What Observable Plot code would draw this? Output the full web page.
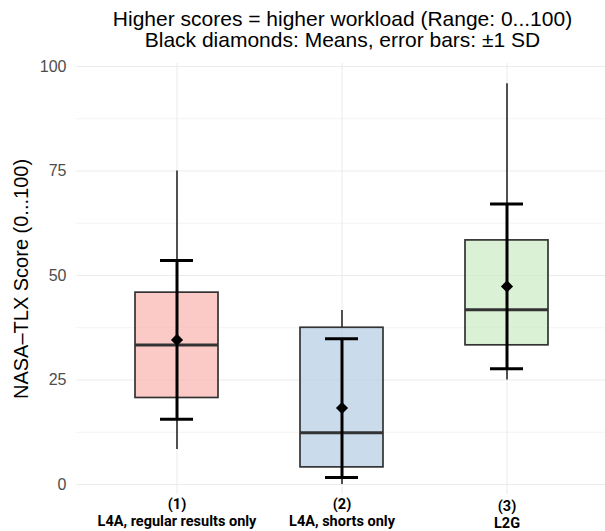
<!DOCTYPE html>
<html><head><meta charset="utf-8">
<script src="https://cdn.jsdelivr.net/npm/d3@7"></script>
<script src="https://cdn.jsdelivr.net/npm/@observablehq/plot@0.6"></script>
<style>
body{margin:0;background:#fff;}
#title{box-sizing:border-box;width:605px;height:55px;padding:8px 0 0 80px;text-align:center;font:21px/21px "Liberation Sans",Arial,sans-serif;color:#000;}
#chart svg{display:block;}
</style></head><body>
<div id="title"><div>Higher scores = higher workload (Range: 0...100)</div><div>Black diamonds: Means, error bars: ±1 SD</div></div>
<div id="chart"></div>
<script>
const groups = ["L4A, regular results only", "L4A, shorts only", "L2G"];
const tickLabels = ["(1)\nL4A, regular results only", "(2)\nL4A, shorts only", "(3)\nL2G"];
const whiskerLow = [8.4, 0.0, 25.0];
const q1 = [20.7, 4.1, 33.3];
const median = [33.4, 12.4, 41.8];
const q3 = [45.9, 37.5, 58.4];
const whiskerHigh = [75.0, 41.6, 95.9];
const means = [34.6, 18.3, 47.4];
const sds = [19.0, 16.6, 19.7];
const boxFill = ["#FBB4AE", "#B3CDE3", "#CCEBC5"];
const yTicks = [0, 25, 50, 75, 100];
const yMinor = [12.5, 37.5, 62.5, 87.5];

const data = groups.map((g, i) => ({
  group: g, label: tickLabels[i],
  wlo: whiskerLow[i], q1: q1[i], med: median[i], q3: q3[i], whi: whiskerHigh[i],
  mean: means[i], lo: means[i] - sds[i], hi: means[i] + sds[i]
}));

const chart = Plot.plot({
  width: 605, height: 476,
  marginTop: 8, marginBottom: 37, marginLeft: 76, marginRight: -2,
  style: {fontFamily: "'Liberation Sans', Arial, sans-serif", background: "#fff", overflow: "visible"},
  x: {type: "band", domain: groups, paddingInner: 0.5, paddingOuter: 0.35, axis: null},
  y: {domain: [-2.39, 100.72]},
  color: {domain: groups, range: boxFill},
  marks: [
    Plot.ruleY(yMinor, {stroke: "#ebebeb", strokeWidth: 0.6}),
    Plot.ruleY(yTicks, {stroke: "#ebebeb", strokeWidth: 1.1}),
    Plot.ruleX(groups, {stroke: "#ebebeb", strokeWidth: 1.1}),
    Plot.ruleX(data, {x: "group", y1: "q3", y2: "whi", stroke: "#333", strokeWidth: 1.7}),
    Plot.ruleX(data, {x: "group", y1: "wlo", y2: "q1", stroke: "#333", strokeWidth: 1.7}),
    Plot.barY(data, {x: "group", y1: "q1", y2: "q3", fill: "group", fillOpacity: 0.7, stroke: "#333", strokeWidth: 1.7}),
    Plot.tickY(data, {x: "group", y: "med", stroke: "#333", strokeWidth: 3}),
    Plot.ruleX(data, {x: "group", y1: "lo", y2: "hi", stroke: "#000", strokeWidth: 3}),
    Plot.tickY(data, {x: "group", y: "lo", stroke: "#000", strokeWidth: 3, insetLeft: 25, insetRight: 25}),
    Plot.tickY(data, {x: "group", y: "hi", stroke: "#000", strokeWidth: 3, insetLeft: 25, insetRight: 25}),
    Plot.dot(data, {x: "group", y: "mean", symbol: "diamond2", r: 5.5, fill: "#000", stroke: null}),
    Plot.axisY(yTicks, {tickSize: 0, tickPadding: 10, fontSize: 16, fill: "#4d4d4d", label: null}),
    Plot.text(["NASA–TLX Score (0...100)"], {frameAnchor: "left", rotate: -90, dx: -49, lineAnchor: "bottom", textAnchor: "middle", fontSize: 20, fill: "#000"}),
    Plot.text(data, {filter: (d, i) => i < 2, x: "group", text: "label", frameAnchor: "bottom", lineAnchor: "middle", dy: 17.5, fontSize: 14.5, fontWeight: "bold", fontFamily: "Roboto", lineHeight: 1.17, fill: "#000"}),
    Plot.text(data, {filter: (d, i) => i === 2, x: "group", text: "label", frameAnchor: "bottom", lineAnchor: "middle", dy: 19.8, fontSize: 14.5, fontWeight: "bold", fontFamily: "Roboto", lineHeight: 1.12, fill: "#000"})
  ]
});
document.getElementById("chart").appendChild(chart);
</script>
</body></html>
